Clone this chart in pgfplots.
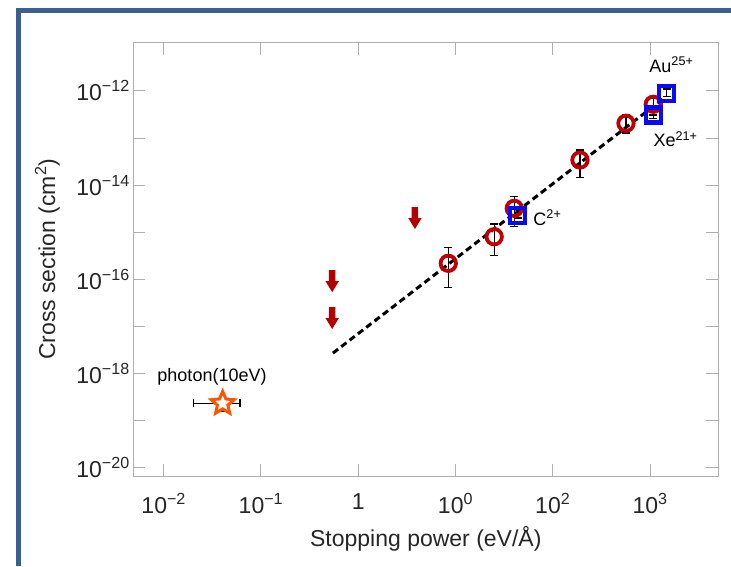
\documentclass[border=0pt]{standalone}
\usepackage{pgfplots}
\pgfplotsset{compat=1.18}
\usepackage{fontspec}
\setmainfont{Liberation Sans}

\definecolor{framebl}{RGB}{59,96,143}
\definecolor{circred}{RGB}{192,0,0}
\definecolor{arrowred}{RGB}{176,0,0}
\definecolor{sqblue}{RGB}{10,10,245}
\definecolor{starorange}{RGB}{255,85,0}
\definecolor{axgray}{RGB}{175,175,175}

% open five-pointed star
\pgfdeclareplotmark{openstar}{%
  \pgfpathmoveto{\pgfpointpolar{90}{12pt}}%
  \pgfpathlineto{\pgfpointpolar{126}{5.5pt}}%
  \pgfpathlineto{\pgfpointpolar{162}{12pt}}%
  \pgfpathlineto{\pgfpointpolar{198}{5.5pt}}%
  \pgfpathlineto{\pgfpointpolar{234}{12pt}}%
  \pgfpathlineto{\pgfpointpolar{270}{5.5pt}}%
  \pgfpathlineto{\pgfpointpolar{306}{12pt}}%
  \pgfpathlineto{\pgfpointpolar{342}{5.5pt}}%
  \pgfpathlineto{\pgfpointpolar{18}{12pt}}%
  \pgfpathlineto{\pgfpointpolar{54}{5.5pt}}%
  \pgfpathclose
  \pgfusepathqfillstroke
}
% filled downward arrow (upper limit)
\pgfdeclareplotmark{downarrow}{%
  \pgfpathmoveto{\pgfpoint{-3.2pt}{11pt}}%
  \pgfpathlineto{\pgfpoint{3.2pt}{11pt}}%
  \pgfpathlineto{\pgfpoint{3.2pt}{0pt}}%
  \pgfpathlineto{\pgfpoint{6.7pt}{0pt}}%
  \pgfpathlineto{\pgfpoint{0pt}{-11pt}}%
  \pgfpathlineto{\pgfpoint{-6.7pt}{0pt}}%
  \pgfpathlineto{\pgfpoint{-3.2pt}{0pt}}%
  \pgfpathclose
  \pgfusepathqfill
}

\begin{document}
\begin{tikzpicture}
\path[use as bounding box] (0,0) rectangle (731pt,566pt);
\draw[framebl, line width=5pt, line join=miter] (18pt,0pt) -- (18pt,555pt) -- (731pt,555pt);

\begin{axis}[
  at={(133.3pt,90pt)}, anchor=south west,
  scale only axis, width=585pt, height=433.3pt,
  xmode=log, ymode=log,
  xmin=0.00487, xmax=5035, ymin=6.6e-21, ymax=1.06e-11,
  axis line style={draw=axgray, line width=1pt},
  tick style={draw=axgray, line width=1pt},
  major tick length=12pt,
  tick align=inside,
  xminorticks=false, yminorticks=false,
  xtick={0.01,0.1,1,10,100,1000},
  xticklabels={10\textsuperscript{−2},10\textsuperscript{−1},1,10\textsuperscript{0},10\textsuperscript{2},10\textsuperscript{3}},
  ytick={1e-20,1e-19,1e-18,1e-17,1e-16,1e-15,1e-14,1e-13,1e-12},
  yticklabels={10\textsuperscript{−20},,10\textsuperscript{−18},,10\textsuperscript{−16},,10\textsuperscript{−14},,10\textsuperscript{−12}},
  tick label style={font=\fontsize{23}{27}\selectfont, text=black!85},
  xticklabel style={yshift=-14pt},
  xlabel={Stopping power (eV/Å)},
  ylabel={Cross section (cm\textsuperscript{2})},
  every axis x label/.style={at={(axis description cs:0.5,-0.145)}, anchor=center,
    font=\fontsize{23}{27}\selectfont, text=black!85},
  every axis y label/.style={at={(axis description cs:-0.147,0.5)}, rotate=90, anchor=center,
    font=\fontsize{23}{27}\selectfont, text=black!85},
  clip=false,
]

% measured cross sections (open circles)
\addplot[only marks, mark=o, mark size=7.7pt, mark options={draw=circred, line width=3.8pt}]
  coordinates {(8.43,2.18e-16) (25.0,8.0e-16) (40.2,3.21e-15) (190.5,3.42e-14) (566,2.06e-13) (1080,5.21e-13)};

% highly charged ions (open squares)
\addplot[only marks, mark=square, mark size=7.5pt, mark options={draw=sqblue, line width=4.5pt}]
  coordinates {(43.6,2.24e-15) (1483,8.9e-13) (1080,3.09e-13)};

% upper limits
\addplot[only marks, mark=downarrow, mark options={fill=arrowred}]
  coordinates {(0.54,9.1e-17) (0.54,1.5e-17) (3.83,2.0e-15)};

% photon point
\addplot[only marks, mark=openstar, mark options={draw=starorange, fill=white, line width=3pt, line join=miter}]
  coordinates {(0.0404,2.3e-19)};

% power-law guide
\addplot[black, line width=3pt, dash pattern=on 6.5pt off 4pt, mark=none]
  coordinates {(0.55,2.7e-18) (1400,7.1e-13)};

% error bars
\addplot[only marks, mark=*, mark size=0pt, mark options={draw=none, fill=none},
  error bars/.cd, y dir=both, y explicit,
  error bar style={black, line width=1.2pt},
  error mark options={black, line width=1.2pt, mark size=4pt, rotate=90}]
  coordinates {
  (8.43,2.18e-16) += (0,2.53e-16) -= (0,1.515e-16)
  (25.0,8.0e-16) += (0,6.9e-16) -= (0,4.77e-16)
  (40.2,3.21e-15) += (0,2.46e-15) -= (0,1.9e-15)
  (190.5,3.42e-14) += (0,2.15e-14) -= (0,1.98e-14)
  (566,2.06e-13) += (0,1.03e-13) -= (0,7.8e-14)
  (1080,5.21e-13) += (0,1.79e-13) -= (0,2.12e-13)
  (43.6,2.24e-15) += (0,3.2e-16) -= (0,2.4e-16)
  (1483,8.9e-13) += (0,2.1e-13) -= (0,1.3e-13)
  (1080,3.09e-13) += (0,5.4e-14) -= (0,4.6e-14)
  };
\addplot[only marks, mark=*, mark size=0pt, mark options={draw=none, fill=none},
  error bars/.cd, x dir=both, x explicit, y dir=both, y explicit,
  error bar style={black, line width=1.2pt},
  error mark options={black, line width=1.2pt, mark size=4pt, rotate=90}]
  coordinates {(0.0404,2.3e-19) += (0.0204,0.74e-19) -= (0.0202,0.77e-19)};

\node[anchor=base west, font=\fontsize{18}{21}\selectfont] at (axis cs:908,2.5e-12) {Au\textsuperscript{25+}};
\node[anchor=base west, font=\fontsize{18}{21}\selectfont] at (axis cs:1000,6.5e-14) {Xe\textsuperscript{21+}};
\node[anchor=base west, font=\fontsize{18}{21}\selectfont] at (axis cs:58.3,1.42e-15) {C\textsuperscript{2+}};
\node[anchor=base west, font=\fontsize{18}{21}\selectfont] at (axis cs:0.00794,6.65e-19) {photon(10eV)};
\end{axis}
\end{tikzpicture}
\end{document}
